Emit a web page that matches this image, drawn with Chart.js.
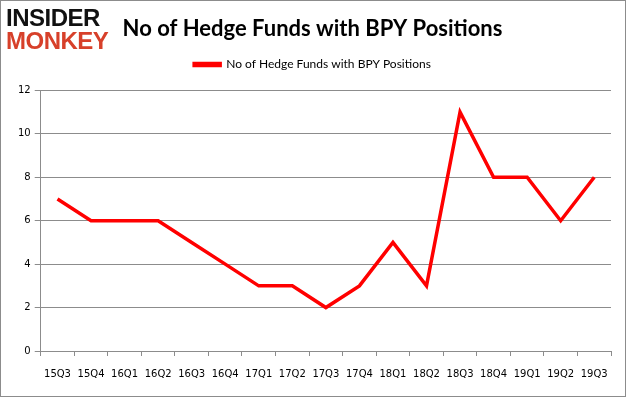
<!DOCTYPE html>
<html>
<head>
<meta charset="utf-8">
<script src="https://cdn.jsdelivr.net/npm/chart.js@4.4.1/dist/chart.umd.min.js"></script>
<style>
  body { margin: 0; background: #fff; }
  #wrap { position: relative; width: 626px; height: 397px; box-sizing: border-box; border: 1px solid #8c8c8c; }
  #the-chart { position: absolute; left: 0; top: 0; }
  .logo { position: absolute; left: 5px; font-family: "Liberation Sans", Arial, sans-serif; font-weight: bold; font-size: 24px; line-height: 24px; letter-spacing: -0.5px; }
  .logo.top { top: 5px; color: #111; }
  .logo.bottom { top: 28px; color: #d7402a; }
</style>
</head>
<body>
<div id="wrap">
  <canvas id="the-chart" width="626" height="397"></canvas>
  <div class="logo top">INSIDER</div>
  <div class="logo bottom">MONKEY</div>
</div>
<script>
var quarters = ["15Q3", "15Q4", "16Q1", "16Q2", "16Q3", "16Q4", "17Q1", "17Q2", "17Q3",
                "17Q4", "18Q1", "18Q2", "18Q3", "18Q4", "19Q1", "19Q2", "19Q3"];
var hedgeFunds = [7, 6, 6, 6, 5, 4, 3, 3, 2, 3, 5, 3, 11, 8, 8, 6, 8];
var seriesName = "No of Hedge Funds with BPY Positions";
var titleText = "No of Hedge Funds with BPY Positions";

var gridGray = "#8c8c8c";
var labelFont = { family: "'DejaVu Sans', Verdana, sans-serif", size: 10 };

// legend a bit taller so the plot starts lower
var legendSpacer = {
  id: "legendSpacer",
  beforeInit: function (chart) {
    var fit = chart.legend.fit;
    chart.legend.fit = function () {
      fit.bind(chart.legend)();
      this.height += 10;
    };
  }
};

var chart = new Chart(document.getElementById("the-chart"), {
  type: "line",
  data: {
    labels: quarters,
    datasets: [{
      label: seriesName,
      data: hedgeFunds,
      borderColor: "#ff0000",
      backgroundColor: "#ff0000",
      borderWidth: 3.5,
      pointRadius: 0,
      tension: 0
    }]
  },
  options: {
    responsive: false,
    animation: false,
    layout: { padding: { left: 13, right: 16, top: 0, bottom: 6 } },
    plugins: {
      title: {
        display: true,
        text: titleText,
        color: "#000",
        font: { family: "Lato, 'Open Sans', sans-serif", size: 22, weight: "bold" },
        padding: { top: 15, bottom: 6 }
      },
      legend: {
        labels: {
          boxWidth: 26,
          boxHeight: 2,
          color: "#000",
          font: { family: "Lato, sans-serif", size: 12 },
          padding: 10
        }
      },
      tooltip: { enabled: false }
    },
    scales: {
      x: {
        offset: true,
        grid: { offset: true, drawOnChartArea: false, color: gridGray, tickLength: 5 },
        border: { color: gridGray },
        ticks: { color: "#000", font: labelFont, maxRotation: 0, autoSkip: false, padding: 12 }
      },
      y: {
        min: 0,
        max: 12,
        ticks: { stepSize: 2, color: "#000", font: labelFont, padding: 4 },
        grid: { color: gridGray, tickLength: 6 },
        border: { color: gridGray }
      }
    }
  },
  plugins: [legendSpacer]
});
</script>
</body>
</html>
